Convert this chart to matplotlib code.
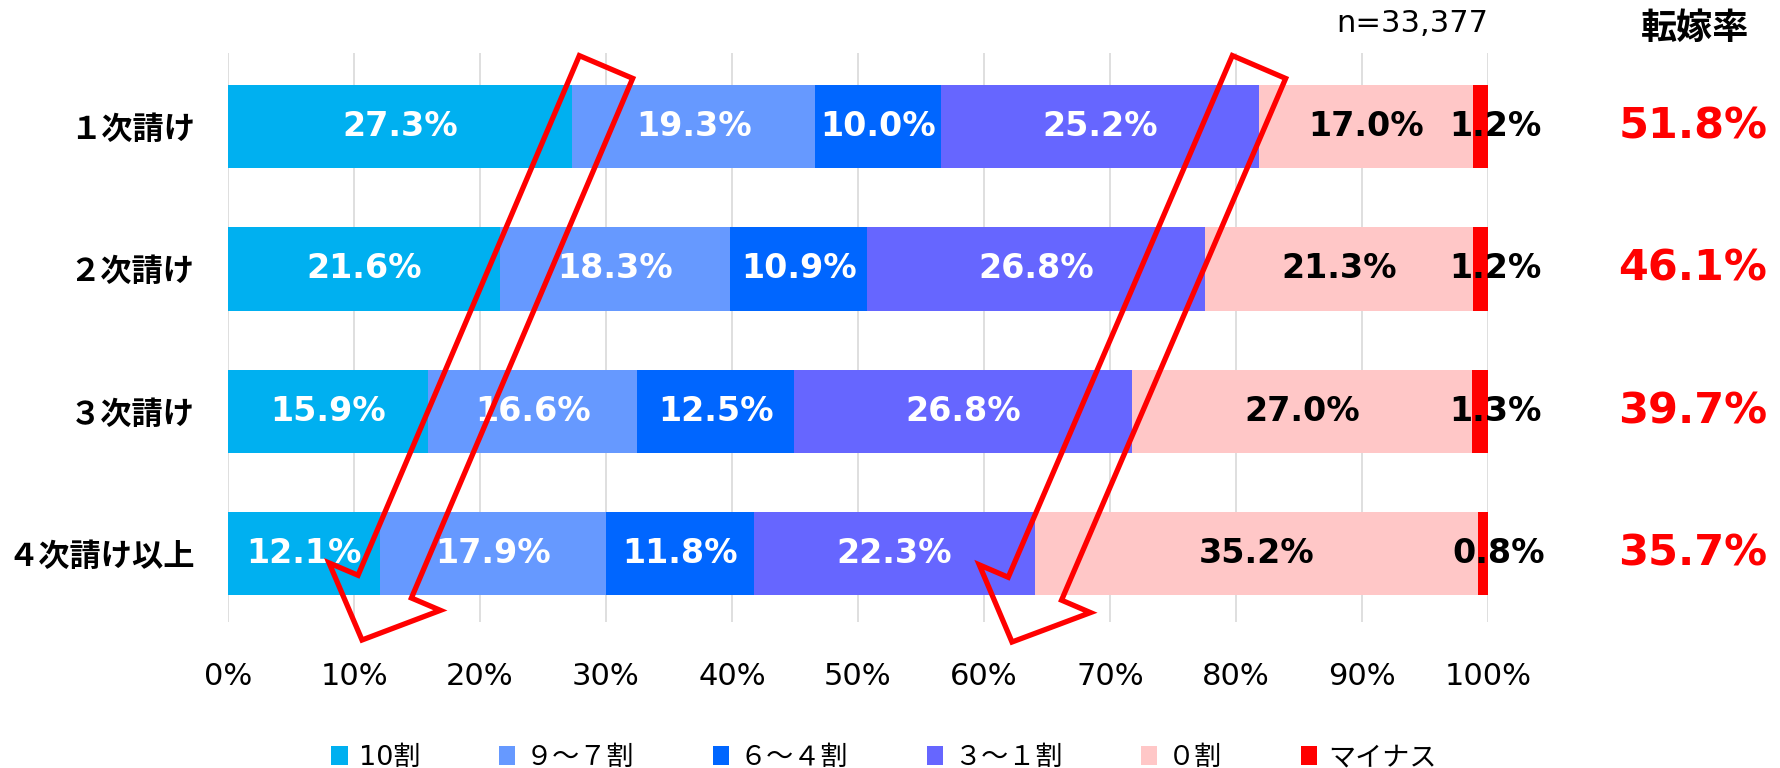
import matplotlib
matplotlib.use('Agg')
import matplotlib.pyplot as plt
from matplotlib.patches import Polygon
from matplotlib.transforms import blended_transform_factory
import numpy as np

plt.rcParams['font.family'] = ['DejaVu Sans', 'Noto Sans CJK JP']

# ---- data ----
categories = ['１次請け', '２次請け', '３次請け', '４次請け以上']
series_names = ['10割', '９～７割', '６～４割', '３～１割', '０割', 'マイナス']
s10 = [27.3, 21.6, 15.9, 12.1]
s97 = [19.3, 18.3, 16.6, 17.9]
s64 = [10.0, 10.9, 12.5, 11.8]
s31 = [25.2, 26.8, 26.8, 22.3]
s0 = [17.0, 21.3, 27.0, 35.2]
sminus = [1.2, 1.2, 1.3, 0.8]
pass_through = [51.8, 46.1, 39.7, 35.7]
xticks = [0, 10, 20, 30, 40, 50, 60, 70, 80, 90, 100]
xtick_labels = [f'{t}%' for t in xticks]
sample_label = 'n=33,377'
rate_header = '転嫁率'

colors = ['#00B0F0', '#6699FF', '#0066FF', '#6666FF', '#FFC7C7', '#FF0000']
label_colors = ['white', 'white', 'white', 'white', 'black', 'black']

series = [s10, s97, s64, s31, s0, sminus]
totals = np.sum(np.array(series), axis=0)

W, H = 1780, 768
fig = plt.figure(figsize=(W / 100, H / 100), dpi=100)
ax = fig.add_axes([228 / W, 1 - 622 / H, (1488 - 228) / W, (622 - 53) / H])

y = np.arange(len(categories))
left = np.zeros(len(categories))
handles = []
for i, vals in enumerate(series):
    v = np.array(vals) / totals * 100
    bars = ax.barh(y, v, left=left, height=0.583, color=colors[i],
                   edgecolor='none', zorder=2, label=series_names[i])
    handles.append(bars)
    for j in range(len(categories)):
        cx = left[j] + v[j] / 2
        txt = f'{vals[j]:.1f}%'
        if i == len(series) - 1:
            ax.annotate(txt, (cx, y[j]), xytext=(11, 0), textcoords='offset points',
                        ha='center', va='center', fontsize=24, fontweight='bold',
                        color=label_colors[i], zorder=4)
        else:
            ax.text(cx, y[j], txt, ha='center', va='center', fontsize=24,
                    fontweight='bold', color=label_colors[i], zorder=4)
    left += v

ax.set_xlim(0, 100)
ax.set_ylim(3.478, -0.516)
ax.set_xticks(xticks)
ax.set_xticklabels(xtick_labels, fontsize=22)
ax.set_yticks(y)
ax.set_yticklabels(categories, fontsize=22.5, fontweight='bold', family='Noto Sans CJK JP')
ax.tick_params(axis='x', length=0, pad=28.5)
ax.tick_params(axis='y', length=0, pad=24)
for s in ax.spines.values():
    s.set_visible(False)
ax.set_axisbelow(True)
ax.grid(axis='x', color='#D9D9D9', linewidth=1.2, zorder=0)
ax.grid(axis='y', visible=False)

# rates on the right
tr = blended_transform_factory(fig.transFigure, ax.transData)
for j, r in enumerate(pass_through):
    ax.text(1693 / W, y[j], f'{r:.1f}%', transform=tr, ha='center', va='center',
            fontsize=31, fontweight='bold', color='#FF0000')
fig.text(1695 / W, 1 - 28 / H, rate_header, ha='center', va='center', fontsize=26,
         fontweight='bold', family='Noto Sans CJK JP')
tr2 = blended_transform_factory(ax.transData, fig.transFigure)
ax.text(100, 1 - 24 / H, sample_label, transform=tr2, ha='right', va='center', fontsize=22)

# legend
fig.legend(handles, series_names, ncol=6, loc='center', bbox_to_anchor=(0.4966, 0.013),
           frameon=False, fontsize=19.5, handlelength=0.6, handleheight=0.65,
           handletextpad=0.4, columnspacing=2.9, borderaxespad=0)

# hollow block arrows (pixel geometry, y down)
def arrow_poly(tail, tip, w=58, hw=121, hl=58):
    tail = np.array(tail, float); tip = np.array(tip, float)
    d = tip - tail
    u = d / np.linalg.norm(d)
    n = np.array([-u[1], u[0]])
    base = tip - hl * u
    pts = [tail + n * w / 2, base + n * w / 2, base + n * hw / 2, tip,
           base - n * hw / 2, base - n * w / 2, tail - n * w / 2]
    return [(px / W, 1 - py / H) for px, py in pts]

for tail, tip in [((606, 67), (362, 640)), ((1259, 67), (1012, 642))]:
    poly = Polygon(arrow_poly(tail, tip), closed=True, fill=False, edgecolor='#FF0000',
                   linewidth=3.8, joinstyle='miter', transform=fig.transFigure, zorder=10)
    fig.add_artist(poly)

fig.savefig('out.png', dpi=100)
